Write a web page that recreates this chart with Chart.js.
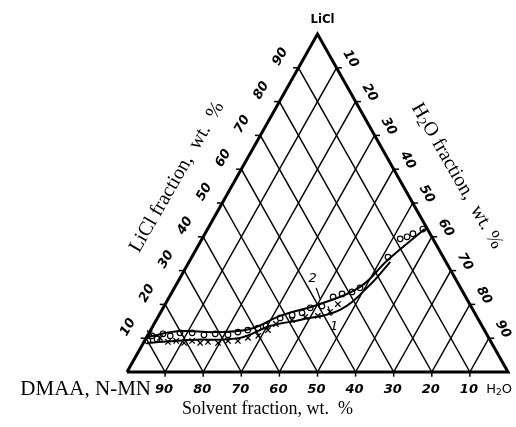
<!doctype html>
<html>
<head>
    <title>LiCl - H2O - solvent</title>
    <script src="https://cdn.jsdelivr.net/npm/chart.js@4.4.1/dist/chart.umd.min.js"></script>
    <style>
        body { margin: 0; background: #fff; }
        #canvas { display: block; }
    </style>
</head>
<body>
    <canvas id="canvas" width="516" height="427"></canvas>
    <script>
        // tick values (wt. %) on the three sides
        var TICKS = [10, 20, 30, 40, 50, 60, 70, 80, 90];
        var bottomLabels = ['90', '80', '70', '60', '50', '40', '30', '20', '10']; // solvent, read left to right
        var leftLabels = ['10', '20', '30', '40', '50', '60', '70', '80', '90'];   // LiCl
        var rightLabels = ['10', '20', '30', '40', '50', '60', '70', '80', '90'];  // H2O

        // curve 2 (open circles): LiCl and H2O, wt. %
        var circLiCl = [9.2, 10.7, 9.8, 11.3, 10.7, 11.6, 11.6, 11.0, 11.3, 11.0, 11.8, 12.4, 13.0, 13.6, 16.0, 16.9, 17.5, 19.0, 19.5, 22.2, 23.1, 23.7, 24.9, 34.0, 39.4, 40.0, 40.9, 42.3];
        var circH2O = [0.9, 1.2, 3.0, 3.8, 6.0, 8.1, 11.3, 14.7, 17.5, 21.0, 23.2, 25.5, 27.9, 29.7, 32.2, 34.9, 37.2, 38.6, 41.4, 43.0, 44.9, 47.2, 48.7, 51.5, 52.0, 53.5, 54.6, 56.5];

        // curve 1 (crosses)
        var crossLiCl = [11.5, 10.1, 8.9, 9.2, 8.6, 9.2, 8.6, 8.9, 8.6, 9.2, 9.2, 10.1, 10.7, 12.4, 14.2, 15.4, 16.3, 16.6, 17.8, 20.1];
        var crossH2O = [0.2, 3.6, 6.3, 8.3, 10.7, 12.5, 14.9, 16.8, 19.6, 21.9, 24.5, 26.7, 29.1, 30.8, 32.0, 35.6, 38.6, 41.8, 44.4, 45.3];

        // drawn lines through the two series
        var line2LiCl = [10.4, 12.1, 11.8, 12.7, 16.6, 20.1, 25.2, 33.2, 42.3];
        var line2H2O = [0.1, 7.8, 17.2, 25.9, 31.9, 40.6, 48.6, 51.9, 57.0];
        var line1LiCl = [8.6, 9.5, 10.1, 13.6, 15.4, 18.4, 25.8, 32.6];
        var line1H2O = [1.0, 11.8, 24.6, 30.7, 37.7, 46.7, 50.9, 52.8];

        // curve labels "1" / "2" and their leaders (LiCl, H2O)
        var curveNames = ['2', '1'];
        var nameLiCl = [27.5, 13.3];
        var nameH2O = [35.0, 47.7];
        var leaderLiCl = [[24.9, 21.6], [19.5, 16.6]];
        var leaderH2O = [[37.2, 39.9], [43.0, 45.3]];

        var H = Math.sqrt(3) / 2;
        function tern(licl, h2o) {
            return { x: h2o + licl / 2, y: licl * H };
        }
        function pts(licl, h2o) {
            var out = [];
            for (var i = 0; i < licl.length; i++) out.push(tern(licl[i], h2o[i]));
            return out;
        }
        function lineSet(data, width) {
            return { data: data, showLine: true, borderColor: '#000', borderWidth: width, pointRadius: 0, clip: false };
        }

        var datasets = [];
        // grid lines: constant H2O (parallel to left side) and constant solvent (parallel to right side)
        for (var i = 0; i < TICKS.length; i++) {
            var v = TICKS[i];
            datasets.push(lineSet([tern(0, v), tern(100 - v, v)], 1.5));
            datasets.push(lineSet([tern(0, 100 - v), tern(100 - v, 0)], 1.5));
        }
        // triangle frame
        datasets.push(lineSet([tern(0, 0), tern(100, 0), tern(0, 100), tern(0, 0)], 3));
        // small ticks
        for (var i = 0; i < TICKS.length; i++) {
            var v = TICKS[i];
            var l = tern(v, 0), r = tern(100 - v, v), b = tern(0, v);
            datasets.push(lineSet([{ x: l.x - 1.4, y: l.y }, { x: l.x + 0.3, y: l.y }], 1.5));
            datasets.push(lineSet([{ x: r.x - 0.3, y: r.y }, { x: r.x + 1.4, y: r.y }], 1.5));
            datasets.push(lineSet([{ x: b.x, y: -1.2 }, { x: b.x, y: 0 }], 1.5));
        }
        // curves
        var l2 = lineSet(pts(line2LiCl, line2H2O), 2); l2.tension = 0.4; datasets.push(l2);
        var l1 = lineSet(pts(line1LiCl, line1H2O), 2); l1.tension = 0.4; datasets.push(l1);
        for (var i = 0; i < 2; i++) {
            datasets.push(lineSet([tern(leaderLiCl[i][0], leaderH2O[i][0]), tern(leaderLiCl[i][1], leaderH2O[i][1])], 1.2));
        }
        datasets.push({
            data: pts(crossLiCl, crossH2O), pointStyle: 'crossRot', pointRadius: 3.8,
            borderColor: '#000', borderWidth: 1.3, backgroundColor: '#000', clip: false
        });
        datasets.push({
            data: pts(circLiCl, circH2O), pointStyle: 'circle', pointRadius: 2.8,
            borderColor: '#000', borderWidth: 1.2, backgroundColor: '#fff', clip: false
        });

        // text drawn on top: axis labels, vertex names, titles
        function drawH2O(ctx, x, y, size, rest, family) {
            // writes H2O with a subscript, then the rest, starting at x (left aligned)
            ctx.font = size + 'px ' + family;
            ctx.fillText('H', x, y);
            x += ctx.measureText('H').width;
            ctx.font = Math.round(size * 0.7) + 'px ' + family;
            ctx.fillText('2', x, y + size * 0.22);
            x += ctx.measureText('2').width;
            ctx.font = size + 'px ' + family;
            ctx.fillText('O' + rest, x, y);
            return x + ctx.measureText('O' + rest).width;
        }
        function h2oWidth(ctx, size, rest, family) {
            ctx.font = size + 'px ' + family;
            var w = ctx.measureText('H').width + ctx.measureText('O' + rest).width;
            ctx.font = Math.round(size * 0.7) + 'px ' + family;
            return w + ctx.measureText('2').width;
        }

        var textPlugin = {
            id: 'ternText',
            afterDraw: function (chart) {
                var ctx = chart.ctx, sx = chart.scales.x, sy = chart.scales.y;
                function px(p) { return { x: sx.getPixelForValue(p.x), y: sy.getPixelForValue(p.y) }; }
                ctx.save();
                ctx.fillStyle = '#000';
                ctx.textAlign = 'center';
                ctx.textBaseline = 'middle';
                var numFont = 'italic bold 13px "DejaVu Sans"';

                for (var i = 0; i < TICKS.length; i++) {
                    var v = TICKS[i];
                    // bottom (solvent)
                    var b = px(tern(0, v));
                    ctx.font = numFont;
                    ctx.fillText(bottomLabels[i], b.x - 1, b.y + 18);
                    // left (LiCl)
                    var l = px(tern(v, 0));
                    ctx.save();
                    ctx.translate(l.x - 18, l.y - 11);
                    ctx.rotate(-Math.PI / 3);
                    ctx.fillText(leftLabels[i], 0, 0);
                    ctx.restore();
                    // right (H2O)
                    var r = px(tern(100 - v, v));
                    ctx.save();
                    ctx.translate(r.x + 14, r.y - 9);
                    ctx.rotate(Math.PI / 3);
                    ctx.fillText(rightLabels[i], 0, 0);
                    ctx.restore();
                }

                // curve names
                ctx.font = 'italic 13px "DejaVu Sans"';
                for (var i = 0; i < curveNames.length; i++) {
                    var n = px(tern(nameLiCl[i], nameH2O[i]));
                    ctx.fillText(curveNames[i], n.x, n.y);
                }

                // apex and corner names
                var top = px(tern(100, 0));
                ctx.font = 'bold 13px "DejaVu Sans Condensed", "DejaVu Sans"';
                ctx.fillText('LiCl', top.x + 5, top.y - 14);

                var br = px(tern(0, 100));
                ctx.textAlign = 'left';
                var w = h2oWidth(ctx, 13, '', '"DejaVu Sans"');
                drawH2O(ctx, br.x - 9 - w / 2, br.y + 18, 13, '', '"DejaVu Sans"');

                var bl = px(tern(0, 0));
                ctx.textAlign = 'right';
                ctx.font = '21px "Liberation Serif"';
                ctx.fillText('DMAA, N-MN', bl.x + 24, bl.y + 17);

                ctx.textAlign = 'center';
                ctx.font = '18px "Liberation Serif"';
                ctx.fillText('Solvent fraction, wt.  %', (bl.x + br.x) / 2 - 50, bl.y + 37);

                // side titles
                ctx.save();
                ctx.translate(177, 177);
                ctx.rotate(-Math.PI / 3);
                ctx.font = '20px "Liberation Serif"';
                ctx.fillText('LiCl fraction,  wt.  %', 0, 0);
                ctx.restore();

                ctx.save();
                ctx.translate(457, 176);
                ctx.rotate(Math.PI / 3);
                ctx.textAlign = 'left';
                var tw = h2oWidth(ctx, 20, ' fraction,  wt. %', '"Liberation Serif"');
                drawH2O(ctx, -tw / 2, 0, 20, ' fraction,  wt. %', '"Liberation Serif"');
                ctx.restore();

                ctx.restore();
            }
        };

        var ctx = document.getElementById('canvas').getContext('2d');
        window.myChart = new Chart(ctx, {
            type: 'scatter',
            data: { datasets: datasets },
            options: {
                responsive: false,
                animation: false,
                devicePixelRatio: 1,
                layout: { padding: { left: 127, right: 8, top: 34, bottom: 55 } },
                plugins: { legend: { display: false }, tooltip: { enabled: false } },
                scales: {
                    x: { type: 'linear', min: 0, max: 100, display: false },
                    y: { type: 'linear', min: 0, max: 100 * H, display: false }
                }
            },
            plugins: [textPlugin, {
                id: 'whiteBg',
                beforeDraw: function (chart) {
                    chart.ctx.save();
                    chart.ctx.fillStyle = '#fff';
                    chart.ctx.fillRect(0, 0, chart.width, chart.height);
                    chart.ctx.restore();
                }
            }]
        });
    </script>
</body>
</html>
